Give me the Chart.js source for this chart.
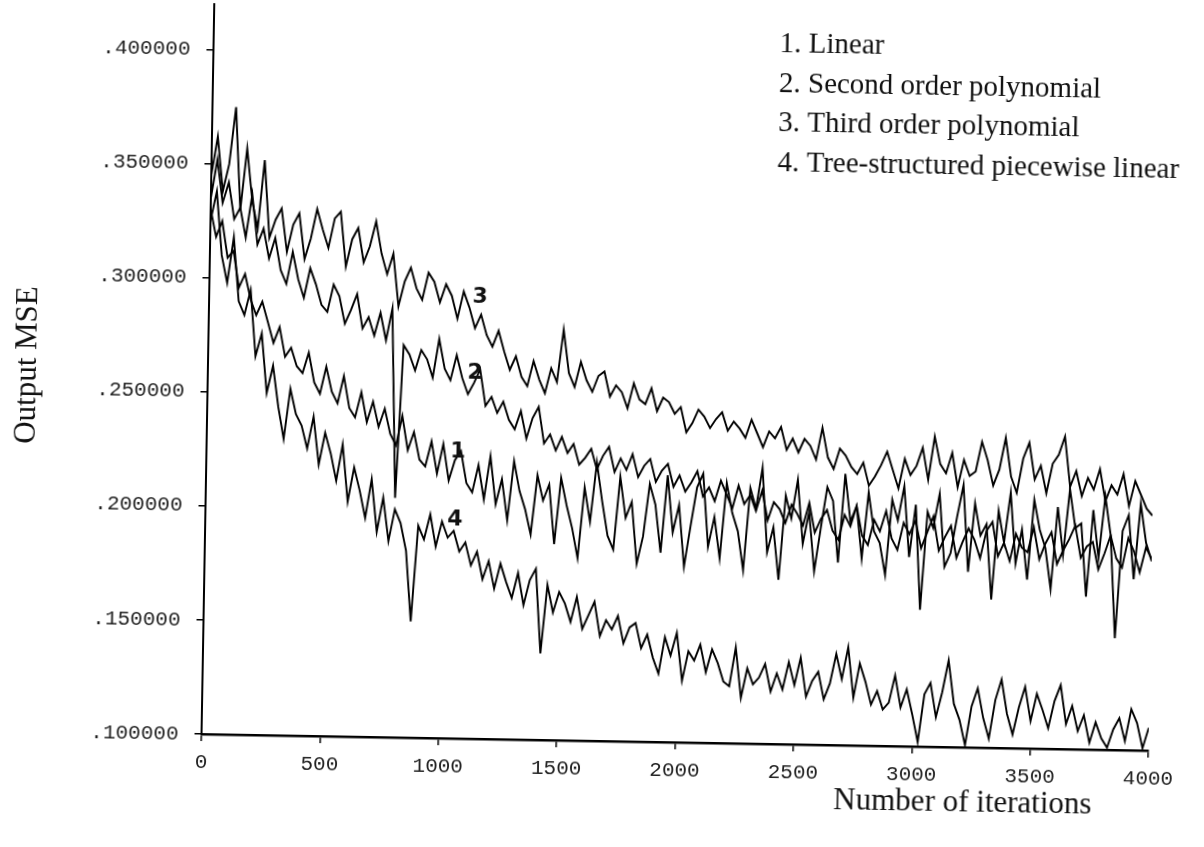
<!DOCTYPE html>
<html>
<head>
<meta charset="utf-8">
<title>Output MSE vs. number of iterations</title>
<script src="https://cdn.jsdelivr.net/npm/chart.js@4.4.1/dist/chart.umd.min.js"></script>
<style>
  html, body { margin: 0; padding: 0; background: #fff; overflow: hidden; }
  /* the scanned page sits about one degree off square */
  #wrap { width: 1204px; height: 847px; transform: rotate(1deg); transform-origin: 602px 423.5px; }
</style>
</head>
<body>
<div id="wrap"><canvas id="mseChart" width="1204" height="847"></canvas></div>
<script>
const seriesNames = ['Linear', 'Second order polynomial', 'Third order polynomial', 'Tree-structured piecewise linear'];

const iterations = [
    0,  25,  50,  75, 100, 125, 150, 175, 200, 225,
  250, 275, 300, 325, 350, 375, 400, 425, 450, 475,
  500, 525, 550, 575, 600, 625, 650, 675, 700, 725,
  750, 775, 800, 825, 850, 875, 900, 925, 950, 975,
  1000, 1025, 1050, 1075, 1100, 1125, 1150, 1175, 1200, 1225,
  1250, 1275, 1300, 1325, 1350, 1375, 1400, 1425, 1450, 1475,
  1500, 1525, 1550, 1575, 1600, 1625, 1650, 1675, 1700, 1725,
  1750, 1775, 1800, 1825, 1850, 1875, 1900, 1925, 1950, 1975,
  2000, 2025, 2050, 2075, 2100, 2125, 2150, 2175, 2200, 2225,
  2250, 2275, 2300, 2325, 2350, 2375, 2400, 2425, 2450, 2475,
  2500, 2525, 2550, 2575, 2600, 2625, 2650, 2675, 2700, 2725,
  2750, 2775, 2800, 2825, 2850, 2875, 2900, 2925, 2950, 2975,
  3000, 3025, 3050, 3075, 3100, 3125, 3150, 3175, 3200, 3225,
  3250, 3275, 3300, 3325, 3350, 3375, 3400, 3425, 3450, 3475,
  3500, 3525, 3550, 3575, 3600, 3625, 3650, 3675, 3700, 3725,
  3750, 3775, 3800, 3825, 3850, 3875, 3900, 3925, 3950, 3975,
  4000
];

// 1. Linear
const linear = [
  .330,.318,.325,.309,.312,.296,.302,.291,.284,.290,
  .281,.272,.279,.266,.270,.262,.259,.268,.255,.250,
  .262,.251,.246,.258,.244,.240,.251,.238,.247,.236,
  .244,.233,.228,.241,.226,.234,.222,.219,.230,.216,
  .229,.213,.222,.226,.212,.208,.220,.205,.224,.203,
  .214,.196,.222,.209,.201,.190,.216,.205,.212,.186,
  .215,.203,.193,.180,.211,.196,.222,.205,.190,.184,
  .216,.198,.205,.178,.190,.213,.204,.183,.217,.192,
  .204,.177,.195,.212,.218,.186,.199,.181,.214,.201,
  .193,.176,.212,.203,.221,.184,.195,.172,.209,.199,
  .216,.188,.202,.176,.195,.213,.207,.180,.219,.198,
  .205,.182,.211,.194,.189,.175,.208,.199,.214,.183,
  .206,.160,.203,.196,.211,.179,.185,.201,.215,.177,
  .207,.193,.198,.165,.204,.190,.212,.181,.196,.174,
  .209,.196,.188,.170,.206,.185,.214,.197,.199,.167,
  .205,.184,.211,.194,.149,.196,.203,.175,.208,.191,
  .183
];

// 2. Second order polynomial
const secondOrder = [
  .335,.352,.333,.342,.326,.331,.318,.337,.315,.322,
  .309,.318,.304,.298,.312,.300,.292,.305,.298,.289,
  .286,.298,.293,.281,.287,.294,.279,.284,.276,.286,
  .274,.288,.205,.272,.268,.261,.270,.266,.258,.275,
  .262,.257,.268,.258,.251,.256,.262,.246,.250,.243,
  .248,.240,.236,.244,.232,.241,.246,.230,.234,.227,
  .233,.226,.230,.221,.224,.228,.219,.225,.229,.218,
  .224,.219,.226,.216,.221,.224,.214,.219,.222,.212,
  .217,.210,.214,.219,.208,.212,.206,.215,.209,.203,
  .213,.205,.209,.202,.211,.198,.206,.203,.197,.205,
  .201,.196,.206,.193,.199,.203,.194,.190,.201,.196,
  .205,.192,.188,.199,.194,.203,.191,.186,.198,.193,
  .199,.187,.194,.201,.186,.192,.197,.183,.190,.196,
  .191,.183,.195,.199,.184,.190,.182,.194,.188,.186,
  .197,.183,.190,.195,.181,.187,.192,.198,.184,.189,
  .191,.179,.186,.194,.184,.180,.193,.187,.178,.189,
  .184
];

// 3. Third order polynomial
const thirdOrder = [
  .345,.362,.338,.350,.375,.330,.357,.334,.322,.352,
  .318,.326,.331,.312,.324,.329,.309,.318,.331,.322,
  .314,.327,.330,.306,.318,.323,.308,.315,.326,.312,
  .303,.312,.289,.300,.306,.297,.292,.304,.300,.291,
  .299,.294,.284,.296,.289,.280,.286,.277,.272,.279,
  .270,.262,.268,.259,.255,.266,.258,.252,.263,.257,
  .280,.261,.255,.266,.258,.253,.260,.262,.251,.256,
  .253,.246,.257,.250,.248,.255,.245,.251,.249,.244,
  .247,.236,.240,.246,.243,.238,.242,.245,.237,.241,
  .238,.234,.242,.236,.230,.237,.234,.239,.229,.234,
  .228,.234,.231,.225,.239,.226,.221,.230,.227,.222,
  .219,.224,.214,.218,.223,.229,.221,.213,.226,.219,
  .223,.231,.217,.236,.224,.220,.229,.214,.226,.219,
  .221,.234,.226,.215,.222,.236,.219,.212,.227,.234,
  .218,.224,.212,.225,.229,.237,.215,.222,.211,.219,
  .214,.223,.209,.216,.212,.221,.207,.218,.212,.206,
  .203
];

// 4. Tree-structured piecewise linear
const treePiecewise = [
  .325,.338,.310,.298,.318,.290,.284,.295,.266,.276,
  .250,.262,.244,.230,.252,.241,.236,.226,.240,.219,
  .233,.224,.212,.228,.203,.218,.208,.196,.213,.190,
  .205,.186,.200,.194,.182,.151,.193,.187,.198,.184,
  .195,.188,.191,.182,.186,.176,.182,.170,.178,.166,
  .177,.169,.162,.173,.159,.170,.175,.138,.168,.156,
  .165,.160,.152,.163,.149,.155,.161,.146,.153,.149,
  .155,.143,.150,.152,.141,.147,.137,.130,.146,.138,
  .148,.127,.140,.136,.143,.131,.141,.135,.127,.125,
  .142,.120,.133,.126,.129,.135,.123,.131,.124,.136,
  .126,.138,.121,.128,.132,.120,.127,.140,.129,.143,
  .121,.136,.128,.118,.124,.116,.119,.131,.117,.125,
  .114,.102,.123,.128,.113,.124,.138,.119,.112,.101,
  .118,.126,.113,.104,.121,.130,.115,.106,.118,.127,
  .112,.124,.117,.109,.121,.128,.111,.119,.108,.115,
  .103,.112,.105,.101,.109,.114,.104,.118,.112,.101,
  .110
];

const xTicks = [0, 500, 1000, 1500, 2000, 2500, 3000, 3500, 4000];
const yTicks = [0.10, 0.15, 0.20, 0.25, 0.30, 0.35, 0.40];
const yTickLabels = ['.100000', '.150000', '.200000', '.250000', '.300000', '.350000', '.400000'];

// number tags written next to each curve, in data units
const curveTags = [
  { text: '3', iter: 1144, mse: 0.2938 },
  { text: '2', iter: 1128, mse: 0.2604 },
  { text: '1', iter: 1062, mse: 0.2257 },
  { text: '4', iter: 1055, mse: 0.1958 }
];

const ink = '#000';
const plotterFont = '"Liberation Mono", "DejaVu Sans Mono", monospace';
const serifFont = '"Liberation Serif", "Times New Roman", serif';

function toPoints(values) {
  return values.map((v, i) => ({ x: iterations[i], y: v }));
}

const allSeries = [linear, secondOrder, thirdOrder, treePiecewise];

const annotate = {
  id: 'annotate',
  afterDraw(chart) {
    const ctx = chart.ctx;
    const xs = chart.scales.x, ys = chart.scales.y;
    ctx.save();
    ctx.fillStyle = '#111';

    ctx.font = '29px ' + serifFont;
    ctx.textAlign = 'left';
    ctx.textBaseline = 'alphabetic';
    seriesNames.forEach((name, i) => {
      ctx.fillText((i + 1) + '. ' + name, 773, 49 + i * 39.5);
    });

    ctx.font = 'bold 22px "DejaVu Sans", sans-serif';
    ctx.textAlign = 'center';
    ctx.textBaseline = 'middle';
    curveTags.forEach(t => {
      ctx.fillText(t.text, xs.getPixelForValue(t.iter), ys.getPixelForValue(t.mse));
    });

    ctx.font = '31px ' + serifFont;
    ctx.fillText('Number of iterations', 969, 797);
    ctx.translate(27, 375);
    ctx.rotate(-Math.PI / 2);
    ctx.fillText('Output MSE', 0, 0);
    ctx.restore();
  }
};

new Chart(document.getElementById('mseChart'), {
  type: 'line',
  data: {
    datasets: allSeries.map((vals, i) => ({
      label: seriesNames[i],
      data: toPoints(vals),
      borderColor: ink,
      borderWidth: 1.9,
      pointRadius: 0,
      tension: 0,
      fill: false
    }))
  },
  options: {
    responsive: false,
    animation: false,
    devicePixelRatio: 1,
    layout: { padding: { left: 0, right: 50, top: 11, bottom: 0 } },
    plugins: { legend: { display: false }, tooltip: { enabled: false } },
    scales: {
      x: {
        type: 'linear',
        min: 0,
        max: 4000,
        afterFit(scale) {
          scale.height = 106;
          scale.paddingLeft = 0;
          scale.paddingRight = 0;
        },
        afterBuildTicks(scale) { scale.ticks = xTicks.map(v => ({ value: v })); },
        border: { display: true, color: ink, width: 2.5 },
        grid: { drawOnChartArea: false, drawTicks: true, tickLength: 7, color: ink, lineWidth: 1.5 },
        ticks: {
          autoSkip: false,
          maxRotation: 0,
          padding: 9,
          color: '#222',
          font: { family: plotterFont, size: 21 },
          callback: v => String(v)
        }
      },
      y: {
        type: 'linear',
        min: 0.1,
        max: 0.42,
        afterFit(scale) {
          scale.width = 207;
          scale.paddingTop = 0;
          scale.paddingBottom = 0;
        },
        afterBuildTicks(scale) { scale.ticks = yTicks.map(v => ({ value: v })); },
        border: { display: true, color: ink, width: 2 },
        grid: { drawOnChartArea: false, drawTicks: true, tickLength: 7, color: ink, lineWidth: 1.5 },
        ticks: {
          autoSkip: false,
          padding: 16,
          color: '#222',
          font: { family: plotterFont, size: 21 },
          callback: (v, i) => yTickLabels[i]
        }
      }
    }
  },
  plugins: [annotate]
});
</script>
</body>
</html>
